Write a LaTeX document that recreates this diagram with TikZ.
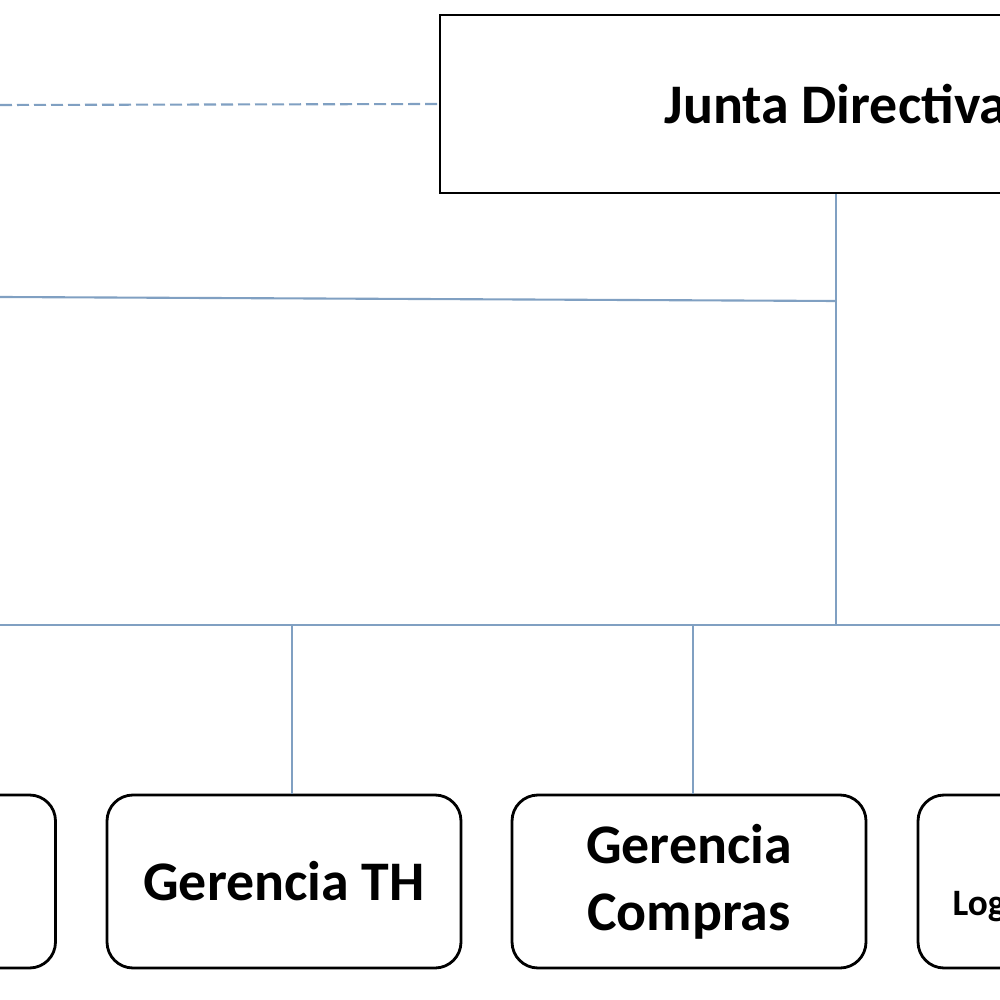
\documentclass[tikz,border=0pt]{standalone}
\usepackage{fontspec}
\setmainfont{Carlito}
\usetikzlibrary{positioning, calc}
\definecolor{linkblue}{RGB}{128,160,194}

\begin{document}
\begin{tikzpicture}[
        font=\bfseries\fontsize{15.9}{19}\selectfont,
        topbox/.style={rectangle, draw, line width=0.8pt, fill=white, minimum width=7.92cm, minimum height=1.78cm, inner sep=0pt},
        unit/.style={rectangle, draw, line width=0.8pt, fill=white, rounded corners=0.26cm, align=center, minimum width=3.54cm, minimum height=1.73cm, inner sep=0pt},
        link/.style={draw=linkblue, line width=0.6pt},
        dashlink/.style={draw=linkblue, line width=0.6pt, dash pattern=on 0.12cm off 0.05cm}
    ]
        \useasboundingbox (0,0) rectangle (10,-10);
        \clip (0,0) rectangle (10,-10);

        % free ends of the connectors
        \coordinate (dashL) at (0,-1.05);
        \coordinate (midL) at (0,-2.97);
        \coordinate (midR) at (8.36,-3.01);
        \coordinate (busL) at (0,-6.25);
        \coordinate (busR) at (10,-6.25);
        \coordinate (tapTH) at (2.92,-6.25);
        \coordinate (tapCO) at (6.93,-6.25);

        \node (junta) [topbox] at (8.36,-1.04) {Junta Directiva};
        \node (gleft) [unit] at (-1.215,-8.815) {};
        \node (gth) [unit] at (2.84,-8.815) {Gerencia TH};
        \node (gcompras) [unit] at (6.89,-8.815) {Gerencia\\Compras};
        \node (glog) [unit] at (10.95,-8.815) {};
        \node (logtxt) [anchor=base west, inner sep=0pt, font=\bfseries\fontsize{10.6}{12}\selectfont] at (9.52,-9.15) {Log};

        \draw [dashlink] (dashL) -- (junta.west);
        \draw [link] (junta.south) -- (junta.south |- busL);
        \draw [link] (midL) -- (midR);
        \draw [link] (busL) -- (busR);
        \draw [link] (tapTH) -- (tapTH |- gth.north);
        \draw [link] (tapCO) -- (tapCO |- gcompras.north);
\end{tikzpicture}
\end{document}
